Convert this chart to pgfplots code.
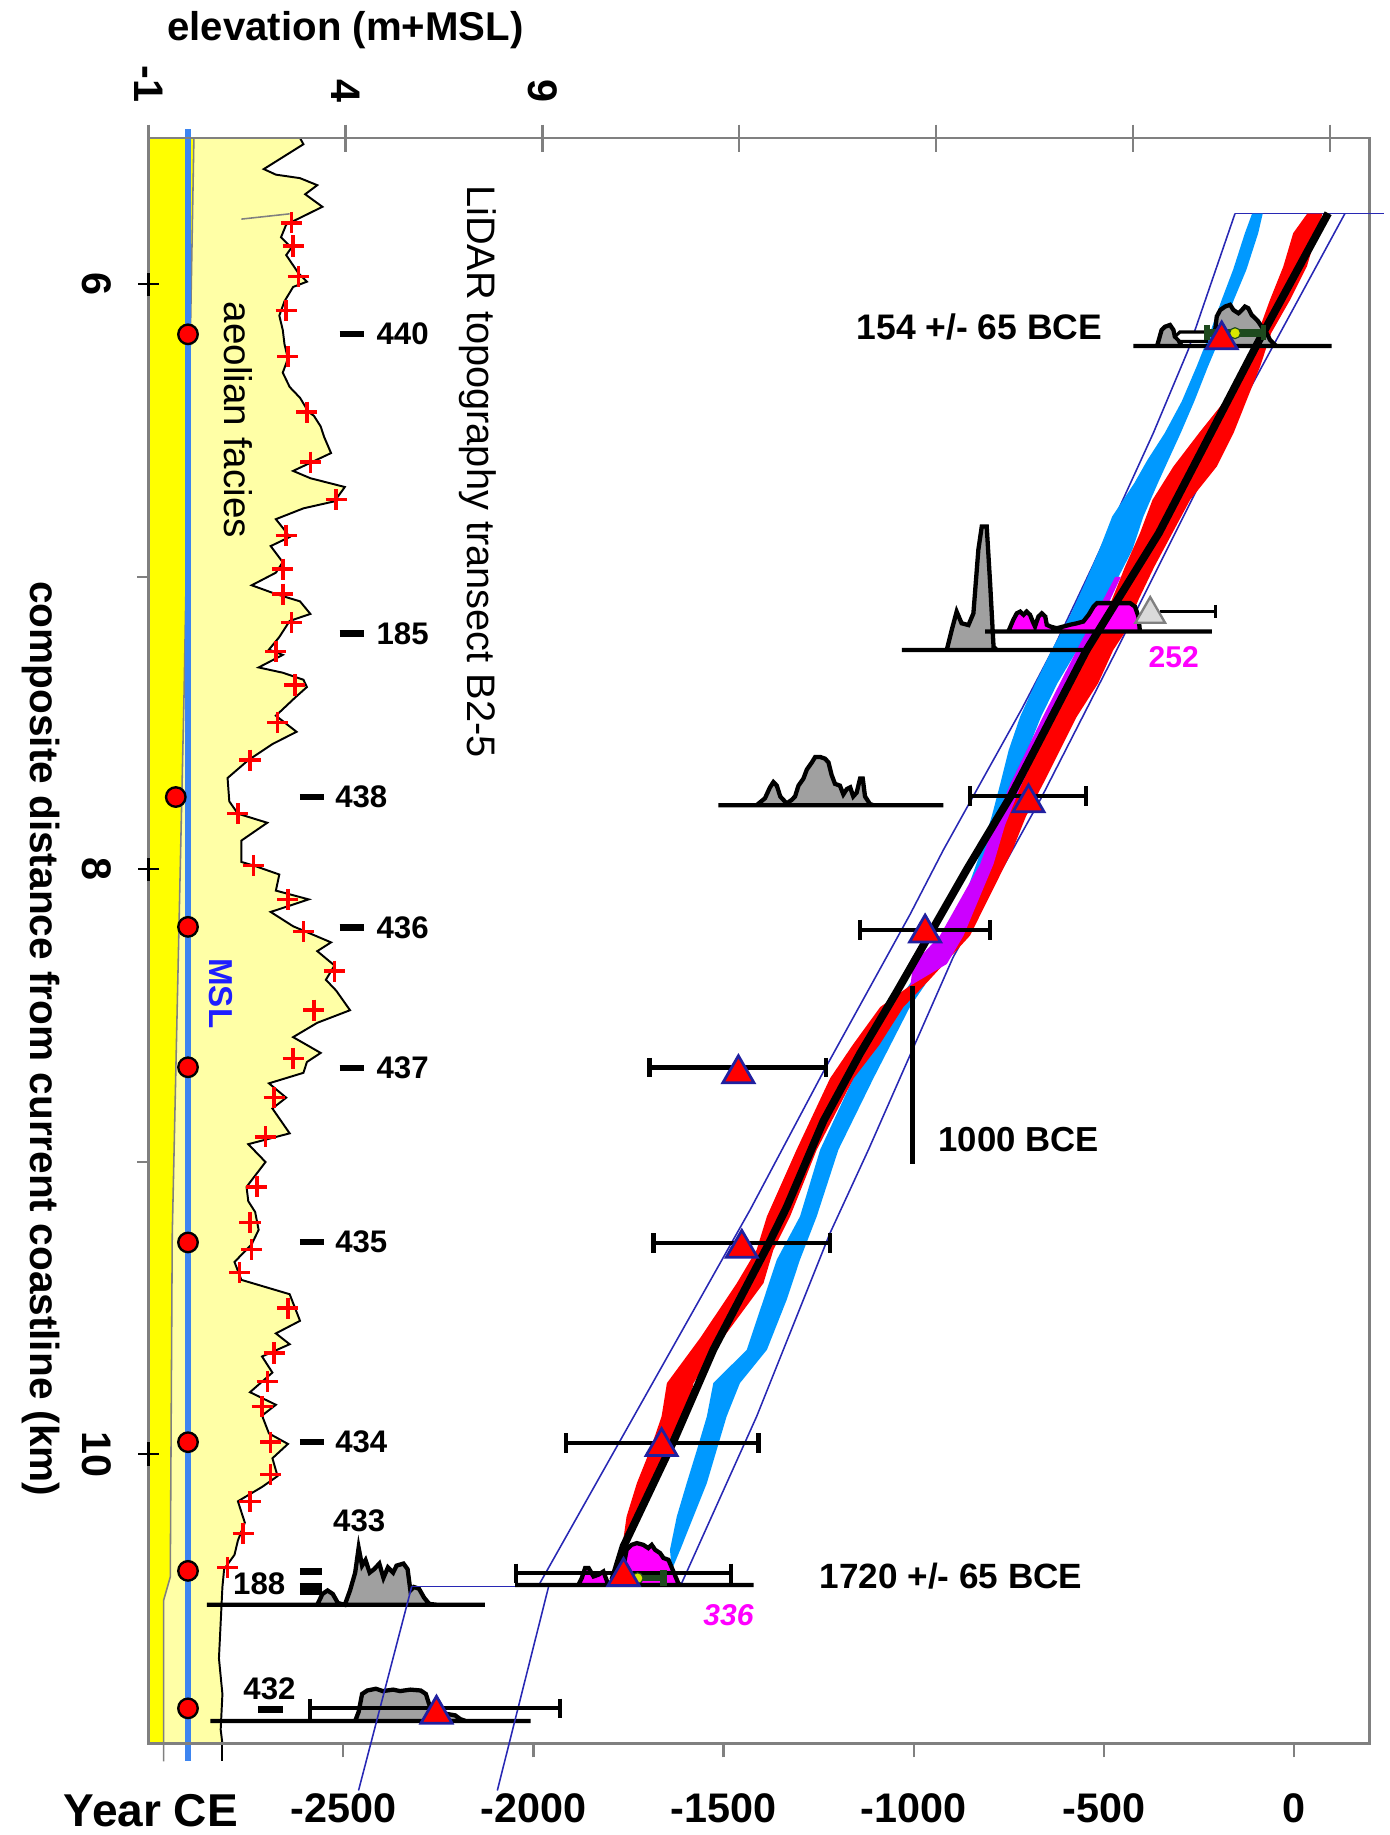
\documentclass[border=0pt]{standalone}
\usepackage{fontspec}
\setmainfont{Liberation Sans}
\usepackage{pgfplots}
\usepackage{pgfplotstable}
\pgfplotsset{compat=1.18}
\newcommand{\fs}[1]{\fontsize{#1}{#1}\selectfont}
\definecolor{axisgray}{HTML}{808080}
\definecolor{lightyel}{HTML}{FFFFA6}
\definecolor{brightyel}{HTML}{FFFF00}
\definecolor{mslblue}{HTML}{3D85F0}
\definecolor{msltext}{HTML}{1E1EFF}
\definecolor{bandblue}{HTML}{0099FF}
\definecolor{bandred}{HTML}{FF0000}
\definecolor{bandmag}{HTML}{CC00FF}
\definecolor{distmag}{HTML}{FF00FF}
\definecolor{distgray}{HTML}{A0A0A0}
\definecolor{envblue}{HTML}{2828B4}
\definecolor{tridark}{HTML}{2020A0}
\definecolor{dkgreen}{HTML}{1E4A1E}
\definecolor{ygreen}{HTML}{D8E800}
\definecolor{lgray}{HTML}{DADADA}

\pgfplotstableread{
e km
2.845 5.5
2.932 5.521
2.494 5.558
1.925 5.606
2.232 5.625
2.845 5.637
3.283 5.661
2.976 5.692
3.414 5.735
2.494 5.796
2.363 5.839
2.626 5.875
2.494 5.900
2.801 5.961
3.020 5.991
2.670 6.009
2.451 6.058
2.319 6.107
2.407 6.156
2.451 6.205
2.538 6.254
2.407 6.302
2.582 6.351
2.845 6.388
3.064 6.437
3.195 6.449
3.370 6.486
3.458 6.522
3.633 6.577
2.670 6.638
3.108 6.663
3.983 6.693
3.721 6.742
2.932 6.766
2.232 6.803
2.451 6.840
2.582 6.864
2.100 6.895
2.407 6.950
2.232 6.986
1.618 7.029
2.232 7.059
2.845 7.084
3.108 7.127
2.582 7.151
2.319 7.206
2.056 7.249
2.407 7.267
1.794 7.310
2.407 7.328
2.932 7.352
3.020 7.377
2.713 7.414
2.232 7.475
2.757 7.530
2.144 7.572
1.531 7.627
1.005 7.688
1.049 7.768
1.268 7.810
2.013 7.841
1.356 7.902
1.356 7.975
1.662 7.987
2.319 8.018
2.232 8.073
3.064 8.103
2.100 8.146
2.670 8.195
3.633 8.250
3.283 8.280
3.721 8.329
3.502 8.378
3.764 8.415
4.115 8.482
3.283 8.525
2.670 8.574
3.370 8.628
3.020 8.659
2.932 8.696
2.056 8.732
2.494 8.781
2.144 8.818
2.582 8.903
1.531 8.940
1.969 9.001
1.487 9.086
1.531 9.135
1.706 9.172
1.794 9.233
1.618 9.282
1.181 9.343
1.356 9.404
2.582 9.453
2.845 9.544
2.232 9.587
2.582 9.624
1.881 9.666
2.144 9.721
1.575 9.788
2.232 9.831
1.881 9.868
2.056 9.929
2.538 9.965
2.144 10.014
2.275 10.075
1.881 10.112
1.268 10.161
1.443 10.234
1.268 10.295
1.181 10.344
0.918 10.393
0.874 10.454
0.830 10.576
0.786 10.698
0.874 10.820
0.830 10.942
0.874 10.99
}\proftab

\begin{document}
\begin{tikzpicture}
%================ elevation axis (left part) ================
\begin{axis}[name=elev, at={(0,0)}, anchor=south west, scale only axis,
  width=312.9pt, height=411.6pt,
  xmin=-1, xmax=30, ymin=5.5, ymax=10.99, y dir=reverse,
  hide y axis, axis on top, clip=false, unbounded coords=jump,
  axis line style={axisgray, line width=0.7pt},
  xtick={-1,4,9,14,19,24,29}, xticklabels={}, xtick pos=right,
  xtick align=center, major tick length=6.9pt,
  tick style={axisgray, line width=0.6pt}]
% aeolian facies (light yellow) and basal yellow band
\addplot[fill=lightyel, draw=none] table {\proftab} -- (axis cs:-1,10.99) -- (axis cs:-1,5.5) -- cycle;
\addplot[fill=brightyel, draw=none] coordinates {(-1,5.5)(0.15,5.5)(-0.1,7.4)(-0.4,9.25)(-0.45,10.42)(-0.62,10.5)(-0.62,10.99)(-1,10.99)} -- cycle;
\addplot[gray, line width=0.4pt] coordinates {(0.15,5.5)(-0.1,7.4)(-0.4,9.25)(-0.45,10.42)(-0.62,10.5)(-0.62,11.05)};
% LiDAR profile
\addplot[black, line width=0.5pt] table {\proftab};
\addplot[black, line width=0.5pt] coordinates {(0.874,10.99)(0.874,11.05)};
\addplot[gray, line width=0.4pt] coordinates {(1.356,5.777)(2.582,5.759)};
% MSL
\addplot[mslblue, line width=1.4pt] coordinates {(0,5.47)(0,11.05)};
% crosses
\addplot[only marks, mark=+, mark size=2.7pt, red, line width=0.9pt] coordinates {
(2.626,5.790)(2.670,5.869)(2.801,5.973)(2.494,6.089)(2.538,6.247)(3.020,6.437)(3.108,6.608)(3.764,6.736)(2.494,6.858)(2.407,6.974)(2.407,7.059)(2.626,7.157)(2.232,7.255)(2.713,7.370)
(2.275,7.499)(1.575,7.627)(1.268,7.810)(1.662,7.987)(2.538,8.103)(2.932,8.213)(3.721,8.348)(3.195,8.482)(2.670,8.647)(2.188,8.781)(1.969,8.915)(1.750,9.086)(1.575,9.208)
(1.618,9.300)(1.312,9.379)(2.538,9.501)(2.188,9.654)(2.013,9.752)(1.881,9.837)(2.100,9.959)(2.100,10.069)(1.575,10.161)(1.400,10.271)(1.005,10.387)};
% core sites
\addplot[only marks, mark=*, mark size=2.5pt, mark options={fill=red, draw=black, line width=0.6pt}] coordinates {
(0,6.171)(-0.31,7.753)(0,8.197)(0,8.677)(0,9.276)(0,9.959)(0,10.399)(0,10.869)};
% sample dashes
\addplot[black, line width=1.6pt] coordinates {(3.85,6.170)(4.47,6.170)};
\addplot[black, line width=1.6pt] coordinates {(3.85,7.194)(4.47,7.194)};
\addplot[black, line width=1.6pt] coordinates {(2.84,7.753)(3.46,7.753)};
\addplot[black, line width=1.6pt] coordinates {(3.85,8.199)(4.47,8.199)};
\addplot[black, line width=1.6pt] coordinates {(3.85,8.680)(4.47,8.680)};
\addplot[black, line width=1.6pt] coordinates {(2.84,9.275)(3.46,9.275)};
\addplot[black, line width=1.6pt] coordinates {(2.84,9.959)(3.46,9.959)};
\addplot[black, line width=1.6pt] coordinates {(2.84,10.401)(3.41,10.401)};
\addplot[black, line width=3pt] coordinates {(2.84,10.462)(3.41,10.462)};
\addplot[black, line width=1.6pt] coordinates {(1.79,10.873)(2.41,10.873)};
% distributions 433 and 432
\addplot[fill=distgray, draw=black, line width=1.1pt] coordinates {(0.480,10.515)(3.283,10.515)(3.414,10.478)(3.545,10.466)(3.677,10.478)(3.808,10.509)(3.983,10.515)(4.115,10.466)(4.246,10.405)(4.334,10.320)(4.421,10.381)(4.509,10.362)(4.614,10.405)(4.728,10.393)(4.859,10.374)(4.964,10.423)(5.078,10.387)(5.210,10.405)(5.297,10.381)(5.472,10.374)(5.577,10.393)(5.648,10.466)(5.735,10.454)(5.867,10.460)(5.998,10.491)(6.129,10.512)(6.348,10.515)(7.54,10.515)} -- cycle;
\addplot[fill=distgray, draw=black, line width=1.1pt] coordinates {(0.567,10.912)(4.246,10.912)(4.334,10.881)(4.421,10.820)(4.553,10.808)(4.772,10.802)(4.947,10.810)(5.210,10.805)(5.385,10.810)(5.648,10.805)(5.910,10.808)(6.042,10.820)(6.129,10.857)(6.261,10.881)(6.786,10.893)(6.918,10.906)(7.049,10.912)(8.70,10.912)} -- cycle;
% texts (left part)
\node[font=\fs{8}\bfseries, anchor=west, inner sep=0] at (axis cs:4.77,6.170) {440};
\node[font=\fs{8}\bfseries, anchor=west, inner sep=0] at (axis cs:4.77,7.194) {185};
\node[font=\fs{8}\bfseries, anchor=west, inner sep=0] at (axis cs:3.72,7.753) {438};
\node[font=\fs{8}\bfseries, anchor=west, inner sep=0] at (axis cs:4.77,8.199) {436};
\node[font=\fs{8}\bfseries, anchor=west, inner sep=0] at (axis cs:4.77,8.680) {437};
\node[font=\fs{8}\bfseries, anchor=west, inner sep=0] at (axis cs:3.72,9.275) {435};
\node[font=\fs{8}\bfseries, anchor=west, inner sep=0] at (axis cs:3.72,9.959) {434};
\node[font=\fs{8}\bfseries, inner sep=0] at (axis cs:4.35,10.228) {433};
\node[font=\fs{8}\bfseries, inner sep=0] at (axis cs:1.81,10.442) {188};
\node[font=\fs{8}\bfseries, inner sep=0] at (axis cs:2.07,10.802) {432};
\node[font=\fs{9.9}, rotate=-90, inner sep=0] at (axis cs:1.27,6.464) {aeolian facies};
\node[font=\fs{10.2}, rotate=-90, inner sep=0] at (axis cs:7.35,6.64) {LiDAR topography transect B2-5};
\node[font=\fs{8.5}\bfseries, text=msltext, rotate=-90, inner sep=0] at (axis cs:0.83,8.424) {MSL};
% top tick labels and title
\node[font=\fs{10.6}\bfseries, rotate=-90, anchor=east, inner sep=0] at ([yshift=9pt]axis cs:-1,5.5) {-1};
\node[font=\fs{10.6}\bfseries, rotate=-90, anchor=east, inner sep=0] at ([yshift=9pt]axis cs:4,5.5) {4};
\node[font=\fs{10.6}\bfseries, rotate=-90, anchor=east, inner sep=0] at ([yshift=9pt]axis cs:9,5.5) {9};
\node[font=\fs{10.3}\bfseries, inner sep=0] at ([yshift=27.7pt]axis cs:4,5.5) {elevation (m+MSL)};
\end{axis}

%================ main axis: Year CE ================
\begin{axis}[name=main, at={(0,0)}, anchor=south west, scale only axis,
  width=312.9pt, height=411.6pt,
  xmin=-3012, xmax=198, ymin=5.5, ymax=10.99, y dir=reverse,
  clip=false, unbounded coords=jump,
  axis line style={axisgray, line width=0.7pt},
  xtick={-2500,-2000,-1500,-1000,-500,0}, xticklabels={}, xtick pos=left,
  xtick align=outside, major tick length=3.5pt,
  ytick=\empty, tick style={axisgray, line width=0.6pt}]
% envelope (thin blue)
\addplot[envblue, line width=0.4pt] coordinates {(-155,5.758)(237,5.758)};
\addplot[envblue, line width=0.4pt] coordinates {(-155,5.758)(-278,6.224)(-370,6.509)(-450,6.737)(-530,6.965)(-630,7.239)(-715,7.45)(-822,7.7)(-922,7.934)(-1009,8.153)(-1237,8.691)(-1430,9.164)(-1983,10.441)};
\addplot[envblue, line width=0.4pt] coordinates {(134,5.758)(-203,6.566)(-466,7.25)(-665,7.757)(-896,8.30)(-1119,8.959)(-1220,9.244)(-1413,9.871)(-1614,10.452)};
\addplot[envblue, line width=0.4pt] coordinates {(-2320,10.452)(-1614,10.452)};
\addplot[envblue, line width=0.4pt] coordinates {(-2320,10.452)(-2460,11.15)};
\addplot[envblue, line width=0.4pt] coordinates {(-1960,10.452)(-2095,11.15)};
% blue band
\addplot[fill=bandblue, draw=none] coordinates {
(-110,5.758)(-129,5.825)(-160,5.95)(-190,6.053)(-222,6.17)(-256,6.281)(-295,6.40)(-340,6.509)(-385,6.60)(-420,6.68)(-478,6.794)(-512,6.908)(-550,7.022)(-590,7.136)(-637,7.25)(-680,7.364)(-720,7.478)(-750,7.592)(-772,7.706)(-795,7.82)(-822,7.934)(-869,8.105)(-960,8.30)(-1053,8.471)(-1159,8.715)(-1246,8.959)(-1299,9.187)(-1360,9.335)(-1395,9.472)(-1439,9.643)(-1527,9.757)(-1544,9.871)(-1570,9.985)(-1597,10.099)(-1623,10.213)(-1641,10.327)(-1636,10.395)
(-1614,10.327)(-1579,10.213)(-1544,10.099)(-1518,9.985)(-1492,9.871)(-1457,9.757)(-1386,9.643)(-1334,9.472)(-1299,9.335)(-1255,9.187)(-1198,8.959)(-1106,8.715)(-1010,8.471)(-920,8.30)(-843,8.105)(-790,7.934)(-757,7.82)(-725,7.706)(-700,7.592)(-665,7.478)(-622,7.364)(-570,7.25)(-520,7.136)(-470,7.022)(-425,6.908)(-396,6.794)(-358,6.68)(-330,6.60)(-298,6.509)(-262,6.40)(-226,6.281)(-190,6.17)(-158,6.053)(-125,5.95)(-94,5.825)(-82,5.758)} -- cycle;
% red band
\addplot[fill=bandred, draw=none] coordinates {
(35,5.758)(-2,5.825)(-28,5.939)(-63,6.053)(-95,6.167)(-130,6.281)(-180,6.395)(-250,6.509)(-317,6.623)(-372,6.737)(-405,6.851)(-444,6.965)(-479,7.079)(-514,7.193)(-540,7.25)(-590,7.364)(-640,7.478)(-690,7.592)(-729,7.706)(-760,7.82)(-792,7.934)(-896,8.227)(-990,8.38)(-1088,8.471)(-1160,8.60)(-1220,8.715)(-1308,8.959)(-1386,9.187)(-1413,9.301)(-1465,9.415)(-1560,9.6)(-1649,9.757)(-1663,9.871)(-1693,9.985)(-1728,10.099)(-1755,10.213)(-1768,10.33)
(-1760,10.33)(-1720,10.213)(-1676,10.099)(-1632,9.985)(-1597,9.871)(-1579,9.757)(-1500,9.6)(-1395,9.415)(-1369,9.301)(-1325,9.187)(-1255,8.959)(-1158,8.715)(-1090,8.60)(-1027,8.471)(-960,8.38)(-852,8.227)(-740,7.934)(-705,7.82)(-659,7.706)(-615,7.592)(-571,7.478)(-515,7.364)(-475,7.25)(-446,7.193)(-409,7.079)(-367,6.965)(-320,6.851)(-273,6.737)(-203,6.623)(-159,6.509)(-124,6.395)(-89,6.281)(-60,6.167)(-10,6.053)(34,5.939)(60,5.825)(75,5.758)} -- cycle;
% magenta band
\addplot[fill=bandmag, draw=none] coordinates {
(-470,7.0)(-571,7.25)(-660,7.478)(-745,7.706)(-790,7.85)(-825,7.982)(-931,8.227)(-1001,8.324)(-1009,8.398)(-913,8.324)(-869,8.227)(-790,7.982)(-760,7.85)(-715,7.706)(-632,7.478)(-545,7.25)(-455,7.0)} -- cycle;
% distributions
\addplot[fill=distgray, draw=black, line width=1.1pt] coordinates {
(-422,6.211)(-360,6.211)(-348,6.156)(-339,6.145)(-326,6.139)(-317,6.156)(-313,6.179)(-304,6.19)(-295,6.211)(-212,6.211)(-203,6.110)(-194,6.088)(-181,6.076)(-168,6.070)(-159,6.088)(-146,6.099)(-137,6.088)(-129,6.076)(-120,6.082)(-111,6.105)(-102,6.116)(-94,6.127)(-85,6.145)(-72,6.167)(-63,6.190)(-50,6.207)(-45,6.211)(99,6.211)} -- cycle;
\addplot[fill=white, draw=black, line width=0.8pt] coordinates {(-313,6.179)(-300,6.163)(-229,6.163)(-229,6.195)(-300,6.195)} -- cycle;
\addplot[fill=distgray, draw=black, line width=1.1pt] coordinates {
(-1031,7.250)(-913,7.250)(-900,7.182)(-887,7.119)(-874,7.159)(-856,7.165)(-843,7.125)(-830,6.908)(-821,6.828)(-808,6.828)(-799,7.022)(-790,7.239)(-782,7.250)(-536,7.250)} -- cycle;
\addplot[fill=distmag, draw=black, line width=1.1pt] coordinates {
(-812,7.187)(-751,7.187)(-738,7.147)(-729,7.125)(-720,7.119)(-711,7.130)(-703,7.119)(-694,7.130)(-685,7.159)(-681,7.170)(-672,7.136)(-663,7.125)(-654,7.136)(-650,7.164)(-641,7.170)(-624,7.176)(-606,7.170)(-589,7.164)(-571,7.159)(-554,7.153)(-540,7.130)(-527,7.102)(-518,7.090)(-475,7.090)(-431,7.090)(-418,7.102)(-409,7.136)(-405,7.187)(-216,7.187)} -- cycle;
\addplot[fill=distgray, draw=black, line width=1.1pt] coordinates {
(-1514,7.781)(-1413,7.781)(-1391,7.757)(-1378,7.720)(-1369,7.702)(-1360,7.714)(-1351,7.751)(-1334,7.775)(-1321,7.763)(-1312,7.751)(-1303,7.714)(-1290,7.690)(-1281,7.659)(-1268,7.635)(-1259,7.616)(-1246,7.616)(-1233,7.622)(-1224,7.635)(-1216,7.677)(-1207,7.708)(-1194,7.714)(-1185,7.744)(-1176,7.726)(-1167,7.720)(-1159,7.751)(-1150,7.738)(-1141,7.690)(-1134,7.690)(-1128,7.751)(-1115,7.777)(-1106,7.781)(-922,7.781)} -- cycle;
\addplot[fill=distmag, draw=black, line width=1.1pt] coordinates {
(-2048,10.447)(-1882,10.447)(-1873,10.424)(-1864,10.389)(-1855,10.389)(-1842,10.418)(-1829,10.412)(-1816,10.401)(-1803,10.447)(-1772,10.447)(-1755,10.327)(-1742,10.310)(-1728,10.304)(-1711,10.310)(-1698,10.321)(-1689,10.310)(-1680,10.327)(-1667,10.338)(-1658,10.355)(-1645,10.361)(-1632,10.401)(-1619,10.441)(-1614,10.447)(-1421,10.447)} -- cycle;
% age model line
\addplot[black, line width=2pt] coordinates {
(90,5.757)(-95,6.2)(-215,6.5)(-355,6.85)(-545,7.25)(-645,7.5)(-745,7.75)(-860,8.0)(-948,8.2)(-1045,8.42)(-1141,8.63)(-1237,8.86)(-1334,9.155)(-1385,9.29)(-1527,9.643)(-1630,9.951)(-1763,10.315)(-1790,10.43)};
% error bars
\addplot[black, line width=1.1pt] coordinates {
(-852,7.750)(-547,7.750)(0,nan)(-852,7.717)(-852,7.783)(0,nan)(-547,7.717)(-547,7.783)(0,nan)
(-1141,8.208)(-799,8.208)(0,nan)(-1141,8.175)(-1141,8.241)(0,nan)(-799,8.175)(-799,8.241)(0,nan)
(-1695,8.678)(-1230,8.678)(0,nan)(-1695,8.645)(-1695,8.711)(0,nan)(-1230,8.645)(-1230,8.711)(0,nan)
(-1684,9.278)(-1220,9.278)(0,nan)(-1684,9.245)(-1684,9.311)(0,nan)(-1220,9.245)(-1220,9.311)(0,nan)
(-1914,9.962)(-1408,9.962)(0,nan)(-1914,9.929)(-1914,9.995)(0,nan)(-1408,9.929)(-1408,9.995)(0,nan)
(-2046,10.407)(-1481,10.407)(0,nan)(-2046,10.374)(-2046,10.440)(0,nan)(-1481,10.374)(-1481,10.440)(0,nan)
(-2587,10.869)(-1930,10.869)(0,nan)(-2587,10.836)(-2587,10.910)(0,nan)(-1930,10.836)(-1930,10.902)};
\addplot[black, line width=0.8pt] coordinates {(-352,7.119)(-207,7.119)(0,nan)(-207,7.096)(-207,7.142)};
\addplot[dkgreen, line width=2.2pt] coordinates {(-229,6.167)(-80,6.167)};
\addplot[dkgreen, line width=1.4pt] coordinates {(-229,6.139)(-229,6.190)(0,nan)(-80,6.139)(-80,6.190)};
\addplot[dkgreen, line width=1.6pt] coordinates {(-1728,10.424)(-1658,10.424)(0,nan)(-1658,10.396)(-1658,10.452)};
\addplot[only marks, mark=*, mark size=1.4pt, mark options={fill=ygreen, draw=dkgreen, line width=0.3pt}] coordinates {(-155,6.167)(-1726,10.424)};
% triangles
\addplot[only marks, mark=triangle*, mark size=4.4pt, mark options={fill=lgray, draw=gray, line width=0.6pt}] coordinates {(-378,7.128)};
\addplot[only marks, mark=triangle*, mark size=4.6pt, mark options={fill=red, draw=tridark, line width=0.7pt}] coordinates {
(-190,6.19)(-698,7.773)(-970,8.218)(-1461,8.699)(-1452,9.296)(-1663,9.974)(-1763,10.418)(-2255,10.889)};
% 1000 BCE marker
\addplot[black, line width=1.1pt] coordinates {(-1003,8.398)(-1003,9.008)};
% texts
\node[font=\fs{9.1}\bfseries, inner sep=0] at (axis cs:-827,6.146) {154 +/- 65 BCE};
\node[font=\fs{8.9}\bfseries, inner sep=0] at (axis cs:-724,8.923) {1000 BCE};
\node[font=\fs{9.0}\bfseries, inner sep=0] at (axis cs:-902,10.418) {1720 +/- 65 BCE};
\node[font=\fs{7.7}\bfseries, text=distmag, inner sep=0] at (axis cs:-316,7.275) {252};
\node[font=\fs{7.7}\bfseries\itshape, text=distmag, inner sep=0] at (axis cs:-1487,10.549) {336};
% left ticks (crosses) and minor ticks
\pgfplotsinvokeforeach{6,8,10}{
  \draw[black, line width=0.6pt] ([xshift=-2.6pt]axis cs:-3012,#1) -- ([xshift=2.6pt]axis cs:-3012,#1);
  \draw[black, line width=0.6pt] ([yshift=-3pt]axis cs:-3012,#1) -- ([yshift=3pt]axis cs:-3012,#1);
  \node[font=\fs{10.6}\bfseries, rotate=-90, inner sep=0] at ([xshift=-13.4pt]axis cs:-3012,#1) {#1};
}
\pgfplotsinvokeforeach{7,9}{
  \draw[axisgray, line width=0.6pt] (axis cs:-3012,#1) -- ([xshift=-3pt]axis cs:-3012,#1);
}
% tick labels and axis labels
\pgfplotsinvokeforeach{-2500,-2000,-1500,-1000,-500,0}{
  \node[font=\fs{10.6}\bfseries, inner sep=0] at ([yshift=-16.6pt]axis cs:#1,10.99) {#1};
}
\node[font=\fs{11.8}\bfseries, inner sep=0] at ([xshift=0.6pt,yshift=-17.2pt]axis cs:-3012,10.99) {Year CE};
\node[font=\fs{10.4}\bfseries, rotate=-90, inner sep=0] at ([xshift=-27.6pt]axis cs:-3012,8.58) {composite distance from current coastline (km)};
\end{axis}
\pgfresetboundingbox
\path (-38.1pt,-23.4pt) rectangle (318.0pt,447.0pt);
\end{tikzpicture}
\end{document}
